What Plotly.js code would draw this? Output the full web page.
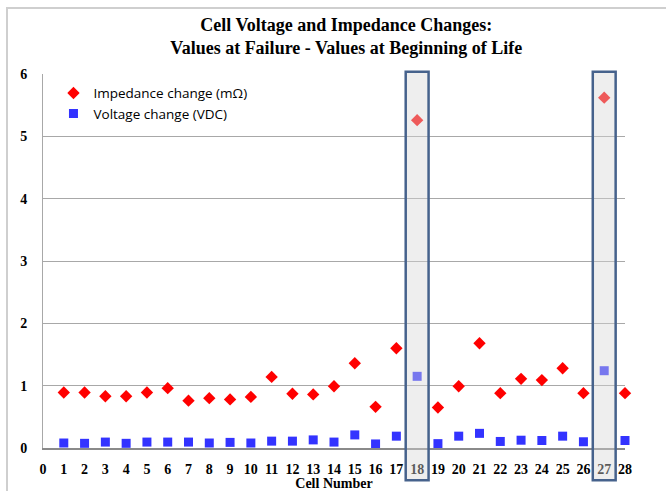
<!DOCTYPE html>
<html>
<head>
<meta charset="utf-8">
<script src="https://cdn.plot.ly/plotly-3.0.1.min.js"></script>
<style>
  html, body { margin: 0; padding: 0; background: #ffffff; }
  #frame { position: absolute; left: 6px; top: 7px; width: 720px; height: 560px; border: 2px solid #cfcfcf; }
  #chart { position: absolute; left: 0; top: 0; width: 666px; height: 491px; }
</style>
</head>
<body>
<div id="frame"></div>
<div id="chart"></div>
<script>
const cells = [1,2,3,4,5,6,7,8,9,10,11,12,13,14,15,16,17,18,19,20,21,22,23,24,25,26,27,28];
const impedanceChange = [0.89,0.89,0.83,0.83,0.89,0.96,0.76,0.80,0.78,0.82,1.14,0.87,0.86,0.99,1.36,0.66,1.60,5.26,0.65,0.99,1.68,0.88,1.11,1.09,1.28,0.88,5.62,0.88];
const voltageChange = [0.08,0.075,0.095,0.075,0.095,0.095,0.095,0.08,0.09,0.08,0.11,0.11,0.13,0.095,0.21,0.065,0.19,1.15,0.07,0.19,0.235,0.105,0.125,0.12,0.19,0.10,1.24,0.12];
const tickValues = [0,1,2,3,4,5,6,7,8,9,10,11,12,13,14,15,16,17,18,19,20,21,22,23,24,25,26,27,28];
const highlightedCells = [18, 27];

const traces = [
  {
    x: cells, y: impedanceChange, type: 'scatter', mode: 'markers',
    name: 'Impedance change (mΩ)', cliponaxis: false,
    marker: { symbol: 'diamond', size: 9.5, color: '#ff0000' }
  },
  {
    x: cells, y: voltageChange, type: 'scatter', mode: 'markers',
    name: 'Voltage change (VDC)', cliponaxis: false,
    marker: { symbol: 'square', size: 9, color: '#3333ff' }
  }
];

const shapes = highlightedCells.map(c => ({
  type: 'rect', xref: 'x', yref: 'paper',
  x0: c - 0.55, x1: c + 0.55, y0: -0.086, y1: 1.006,
  fillcolor: 'rgba(214,214,214,0.42)',
  line: { color: '#46628c', width: 2.5 },
  layer: 'above'
}));

const serif = '"Liberation Serif", "Times New Roman", serif';

const layout = {
  width: 666, height: 491,
  margin: { l: 43, r: 41, t: 74, b: 43, pad: 0 },
  paper_bgcolor: 'rgba(0,0,0,0)',
  plot_bgcolor: 'rgba(0,0,0,0)',
  showlegend: true,
  title: {
    text: 'Cell Voltage and Impedance Changes:<br>Values at Failure - Values at Beginning of Life',
    font: { family: serif, size: 18, color: '#000000', weight: 'bold' },
    x: 0.52, xanchor: 'center',
    y: 0.937, yref: 'container', yanchor: 'middle'
  },
  xaxis: {
    range: [0, 28],
    tickmode: 'array', tickvals: tickValues, ticktext: tickValues.map(String),
    showgrid: false, zeroline: false,
    showline: true, linecolor: '#8a8a8a', linewidth: 1.5,
    ticks: '', ticklabelstandoff: 8,
    tickfont: { family: serif, size: 14, color: '#000000', weight: 'bold' },
    title: { text: 'Cell Number', standoff: 2,
             font: { family: serif, size: 14, color: '#000000', weight: 'bold' } },
    fixedrange: true
  },
  yaxis: {
    range: [0, 6],
    tickmode: 'array', tickvals: [0,1,2,3,4,5,6],
    showgrid: true, gridcolor: '#a8a8a8', gridwidth: 1,
    zeroline: false,
    showline: true, linecolor: '#a8a8a8', linewidth: 1,
    ticks: '', ticklabelstandoff: 12,
    tickfont: { family: serif, size: 14, color: '#000000', weight: 'bold' },
    fixedrange: true
  },
  legend: {
    x: 0.018, y: 0.99, xanchor: 'left', yanchor: 'top',
    bgcolor: 'rgba(255,255,255,0)',
    font: { family: '"Open Sans", sans-serif', size: 13.5, color: '#000000' },
    itemclick: false, itemdoubleclick: false
  },
  shapes: shapes
};

Plotly.newPlot('chart', traces, layout, { displayModeBar: false, staticPlot: true });
</script>
</body>
</html>
